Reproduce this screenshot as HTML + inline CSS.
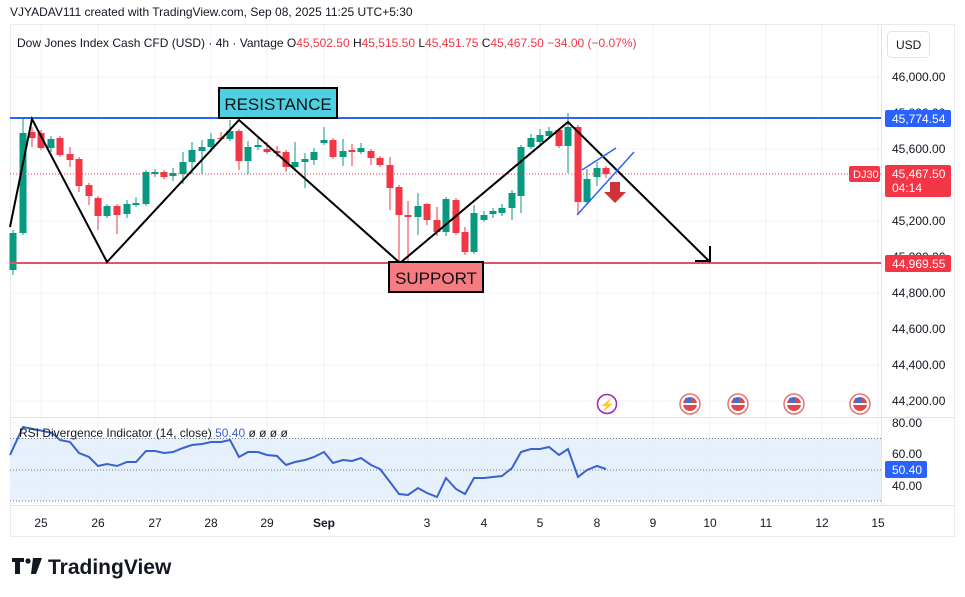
<!DOCTYPE html>
<html><head><meta charset="utf-8"><style>
body{margin:0;background:#fff;width:965px;height:597px;overflow:hidden;font-family:"Liberation Sans",sans-serif}
svg{position:absolute;left:0;top:0}
</style></head><body>
<svg id="s" width="965" height="597" font-family="Liberation Sans, sans-serif">
<text x="10" y="16" font-size="12" fill="#131722">VJYADAV111 created with TradingView.com, Sep 08, 2025 11:25 UTC+5:30</text>
<rect x="10.5" y="24.5" width="944" height="512" fill="#fff" stroke="#e9ebef"/>
<g id="grid"></g>
<rect x="10" y="438" width="872" height="63" fill="#e3f0fc" opacity="0.9"/>
<g id="g"></g>
<line x1="10" y1="417.5" x2="955" y2="417.5" stroke="#e0e3eb"/>
<line x1="881.5" y1="25" x2="881.5" y2="505" stroke="#e0e3eb"/>
<line x1="10" y1="505.5" x2="955" y2="505.5" stroke="#e0e3eb"/>
<text x="17" y="47" font-size="12" fill="#131722">Dow Jones Index Cash CFD (USD) · 4h · Vantage <tspan>O</tspan><tspan fill="#f23645">45,502.50</tspan> H<tspan fill="#f23645">45,515.50</tspan> L<tspan fill="#f23645">45,451.75</tspan> C<tspan fill="#f23645">45,467.50</tspan> <tspan fill="#f23645">−34.00 (−0.07%)</tspan></text>
<rect x="887.5" y="31.5" width="42" height="26" rx="4" fill="#fff" stroke="#e0e3eb"/>
<text x="896" y="49" font-size="12" fill="#131722">USD</text>
</svg>
<script>
var s='';
function P(p){return 77+(46000-p)*0.18}
var days=[[41,'25'],[98,'26'],[155,'27'],[211,'28'],[267,'29'],[324,'Sep'],[427,'3'],[484,'4'],[540,'5'],[597,'8'],[653,'9'],[710,'10'],[766,'11'],[822,'12'],[878,'15']];
var gr='';
days.forEach(function(d){gr+='<line x1="'+d[0]+'" y1="25" x2="'+d[0]+'" y2="505" stroke="#f0f3fa"/>';});
[46000,45600,45200,44800,44400,44200].forEach(function(p){var y=P(p);gr+='<line x1="10" y1="'+y+'" x2="882" y2="'+y+'" stroke="#f0f3fa"/>';});
[423,454,486].forEach(function(y){gr+='<line x1="10" y1="'+y+'" x2="882" y2="'+y+'" stroke="#f0f3fa"/>';});
document.getElementById('grid').innerHTML=gr;
// candles: x, top, bottom, high, low, green?
var C=[[13,233,270,230,275,1],[23,133,233,117,235,1],[32,132,138,127,147,0],[41,133,148,130,150,0],[51,139,148,136,152,1],[60,138,155,136,157,0],[70,154,160,147,167,0],[79,159,186,157,192,0],[89,185,196,183,205,0],[98,198,216,196,230,0],[107,206,216,204,218,1],[117,206,215,204,234,0],[127,204,214,200,218,1],[136,203,205,197,207,1],[146,172,204,170,206,1],[155,172,174,169,177,1],[164,172,177,170,179,0],[173,173,176,168,181,1],[183,162,174,152,184,1],[192,150,162,142,174,1],[202,147,151,140,174,1],[211,139,147,133,152,1],[221,138,139,132,141,0],[230,131,139,120,141,1],[239,131,161,129,170,0],[248,147,161,141,174,1],[258,145,147,138,150,1],[267,149,152,142,154,0],[277,151,153,146,157,0],[286,152,167,150,172,0],[295,162,167,142,169,1],[305,159,162,153,188,1],[314,152,160,148,165,1],[324,140,143,127,145,1],[333,140,157,138,159,0],[343,151,157,139,166,1],[352,150,152,144,166,0],[361,148,152,143,154,1],[371,151,158,149,165,0],[380,158,165,156,167,0],[390,165,188,157,210,0],[399,187,215,185,262,0],[408,215,217,201,262,0],[418,206,217,193,235,1],[427,204,220,203,225,0],[437,220,232,207,236,0],[446,199,232,197,236,1],[456,200,233,198,235,0],[465,232,252,227,255,0],[474,213,252,205,254,1],[484,215,220,211,222,1],[493,211,214,208,218,1],[502,208,213,204,216,1],[512,193,208,190,220,1],[521,147,196,145,213,1],[531,138,147,134,149,1],[540,135,142,129,145,1],[549,131,136,127,139,1],[559,130,146,128,148,0],[568,127,146,113,173,1],[578,127,202,125,215,0],[587,179,202,169,204,1],[597,168,177,162,186,1],[606,168,174,166,178,0]];
C.forEach(function(c){var col=c[5]?'#089981':'#f23645';
s+='<line x1="'+c[0]+'" y1="'+c[3]+'" x2="'+c[0]+'" y2="'+c[4]+'" stroke="'+col+'"/>';
s+='<rect x="'+(c[0]-3.5)+'" y="'+c[1]+'" width="7" height="'+Math.max(1,c[2]-c[1])+'" fill="'+col+'"/>';});
// price line dotted
s+='<line x1="10" y1="174" x2="882" y2="174" stroke="#f23645" stroke-dasharray="1 2"/>';
s+='<line x1="10" y1="118" x2="882" y2="118" stroke="#2962ff" stroke-width="2"/>';
s+='<line x1="10" y1="263" x2="882" y2="263" stroke="#e05560" stroke-width="2"/>';
// zigzag
s+='<polyline points="10,227 32,119 107,262 239,120 400,263 568,122 710,262" fill="none" stroke="#000" stroke-width="2"/>';
s+='<polyline points="695,261 710,261 710,246" fill="none" stroke="#000" stroke-width="2"/>';
// channel
s+='<line x1="582" y1="170" x2="616" y2="148" stroke="#2962ff" stroke-width="1.5"/>';
s+='<line x1="577" y1="215" x2="634" y2="152" stroke="#2962ff" stroke-width="1.5"/>';
s+='<polygon points="610,182 620,182 620,192 626,192 615,203 604,192 610,192" fill="#d0323c"/>';
// boxes
s+='<rect x="219" y="88" width="118" height="30" fill="#4fd0e2" stroke="#000" stroke-width="2"/><text x="278" y="110" font-size="17" text-anchor="middle" fill="#111">RESISTANCE</text>';
s+='<rect x="389" y="262" width="94" height="30" fill="#f77c82" stroke="#000" stroke-width="2"/><text x="436" y="284" font-size="17" text-anchor="middle" fill="#111">SUPPORT</text>';
// axis labels
[[46000,'46,000.00'],[45800,'45,800.00'],[45600,'45,600.00'],[45200,'45,200.00'],[45000,'45,000.00'],[44800,'44,800.00'],[44600,'44,600.00'],[44400,'44,400.00'],[44200,'44,200.00']].forEach(function(a){s+='<text x="892" y="'+(P(a[0])+4)+'" font-size="12" fill="#131722">'+a[1]+'</text>';});
s+='<rect x="885" y="110" width="66" height="17" rx="2" fill="#2962ff"/><text x="892" y="123" font-size="12" fill="#fff">45,774.54</text>';
s+='<rect x="885" y="255" width="66" height="17" rx="2" fill="#f23645"/><text x="892" y="268" font-size="12" fill="#fff">44,969.55</text>';
s+='<rect x="885" y="165" width="66" height="32" rx="2" fill="#f23645"/><text x="892" y="178" font-size="12" fill="#fff">45,467.50</text><text x="892" y="192" font-size="12" fill="#fff">04:14</text>';
s+='<rect x="849" y="166" width="31" height="16" rx="2" fill="#f23645"/><text x="853" y="178" font-size="11" fill="#fff">DJ30</text>';
// events
s+='<circle cx="607" cy="404" r="9.5" fill="#fff" stroke="#9c27b0" stroke-width="1.5"/><text x="607" y="409" font-size="12" text-anchor="middle" fill="#9c27b0">⚡</text>';
[690,738,794,860].forEach(function(x){s+='<circle cx="'+x+'" cy="404" r="10" fill="#fff" stroke="#e57373" stroke-width="1.5"/><circle cx="'+x+'" cy="404" r="7" fill="#e04848"/><rect x="'+(x-7)+'" y="403" width="14" height="2" fill="#fff"/><rect x="'+(x-5)+'" y="398" width="6" height="5" fill="#3f6fd8"/>';});
// RSI
[438.5,470,501].forEach(function(y){s+='<line x1="10" y1="'+y+'" x2="882" y2="'+y+'" stroke="#787b86" stroke-dasharray="1 2"/>';});
var R=[[10,455],[23,427],[33,429],[43,431],[52,433],[60,440],[70,442],[79,453],[89,457],[98,466],[107,464],[117,466],[127,462],[136,462],[146,451],[155,451],[164,453],[173,452],[183,448],[192,445],[202,444],[211,442],[221,442],[230,440],[239,457],[248,452],[258,452],[267,455],[277,456],[286,465],[295,462],[305,460],[314,457],[324,452],[333,463],[343,460],[352,461],[361,458],[371,465],[380,469],[390,482],[399,494],[408,495],[418,488],[427,493],[437,497],[446,478],[456,489],[465,494],[474,478],[484,478],[493,477],[502,476],[512,468],[521,452],[531,449],[540,449],[549,447],[559,455],[568,449],[578,477],[587,470],[597,466],[606,469]];
s+='<polyline points="'+R.map(function(p){return p.join(',')}).join(' ')+'" fill="none" stroke="#3a62cf" stroke-width="2"/>';
s+='<text x="19" y="437" font-size="12" fill="#131722">RSI Divergence Indicator (14, close) <tspan fill="#3a62cf">50.40</tspan>  ø  ø  ø  ø</text>';
[[80,423],[60,454],[40,486]].forEach(function(a){s+='<text x="892" y="'+(a[1]+4)+'" font-size="12" fill="#131722">'+a[0]+'.00</text>';});
s+='<rect x="885" y="461" width="42" height="17" rx="2" fill="#2962ff"/><text x="892" y="474" font-size="12" fill="#fff">50.40</text>';
days.forEach(function(d){s+='<text x="'+d[0]+'" y="527" font-size="12" text-anchor="middle" fill="#131722"'+(d[1]=='Sep'?' font-weight="bold"':'')+'>'+d[1]+'</text>';});
// logo
s+='<path d="M12 558h12v4h-4v12h-5v-12h-3z" fill="#131722"/><circle cx="28" cy="561" r="2.6" fill="#131722"/><path d="M33 558h9l-6 16h-5z" fill="#131722"/>';
s+='<text x="48" y="574" font-size="21" font-weight="bold" fill="#131722">TradingView</text>';
document.getElementById('g').innerHTML=s;
</script>
</body></html>
